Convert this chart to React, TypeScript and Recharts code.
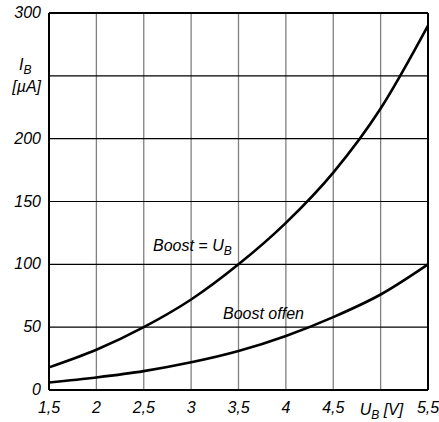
import React from 'react'
import {
  LineChart, Line, XAxis, YAxis, CartesianGrid, ReferenceLine,
} from 'recharts'

const UB = [1.5, 2, 2.5, 3, 3.5, 4, 4.5, 5, 5.5]
const BOOST_EQ_UB = [18, 32, 50, 72, 100, 133, 173, 224, 290]
const BOOST_OFFEN = [6, 10, 15, 22, 31, 43, 58, 76, 100]

const X_TICKS = [1.5, 2, 2.5, 3, 3.5, 4, 4.5, 5, 5.5]
const Y_TICKS = [0, 50, 100, 150, 200, 250, 300]

const FONT = '"Liberation Sans", Arial, sans-serif'
const W = 439
const H = 422

const data = UB.map((u, i) => ({ u, eq: BOOST_EQ_UB[i], offen: BOOST_OFFEN[i] }))

const textStyle = { fontFamily: FONT, fontStyle: 'italic', fontSize: 16, fill: '#000' }
const SUB = 12

const XTick = (props: any) => {
  const { x, y, payload } = props
  if (payload.value === 5) {
    return (
      <text x={x - 21} y={y + 17} style={textStyle}>
        U<tspan fontSize={SUB} dy={4}>B</tspan><tspan dy={-4}> [V]</tspan>
      </text>
    )
  }
  return (
    <text x={x} y={y + 15} textAnchor="middle" style={textStyle}>
      {String(payload.value).replace('.', ',')}
    </text>
  )
}

const YTick = (props: any) => {
  const { x, y, payload } = props
  if (payload.value === 250) return null
  return (
    <text x={x} y={y + 5} textAnchor="end" style={textStyle}>
      {payload.value}
    </text>
  )
}

export default function App() {
  return (
    <div style={{ position: 'absolute', left: 0, top: 0, width: W, height: H, background: '#fff' }}>
      <LineChart width={W} height={H} data={data} margin={{ top: 13, right: 11, left: 0, bottom: 0 }}>
        <CartesianGrid horizontal={false} stroke="#808080" strokeWidth={1.3} />
        <CartesianGrid vertical={false} stroke="#000" strokeWidth={1.2} />
        <XAxis
          dataKey="u"
          type="number"
          domain={[1.5, 5.5]}
          ticks={X_TICKS}
          tick={<XTick />}
          tickLine={false}
          axisLine={{ stroke: '#000', strokeWidth: 2 }}
          height={32}
          interval={0}
        />
        <YAxis
          type="number"
          domain={[0, 300]}
          ticks={Y_TICKS}
          tick={<YTick />}
          tickLine={false}
          axisLine={{ stroke: '#000', strokeWidth: 2 }}
          width={49}
          interval={0}
        />
        <ReferenceLine y={300} stroke="#000" strokeWidth={2} />
        <ReferenceLine x={5.5} stroke="#000" strokeWidth={2} />
        <Line type="monotone" dataKey="eq" stroke="#000" strokeWidth={2.6} dot={false} isAnimationActive={false} />
        <Line type="monotone" dataKey="offen" stroke="#000" strokeWidth={2.6} dot={false} isAnimationActive={false} />
      </LineChart>
      <svg width={W} height={H} style={{ position: 'absolute', left: 0, top: 0, pointerEvents: 'none' }}>
        <text x={19} y={70} style={textStyle}>
          I<tspan fontSize={SUB} dy={4}>B</tspan>
        </text>
        <text x={41} y={92} textAnchor="end" style={textStyle}>[µA]</text>
        <text x={153} y={251} style={textStyle}>
          Boost = U<tspan fontSize={SUB} dy={4}>B</tspan>
        </text>
        <text x={223} y={319} style={textStyle}>Boost offen</text>
      </svg>
    </div>
  )
}
